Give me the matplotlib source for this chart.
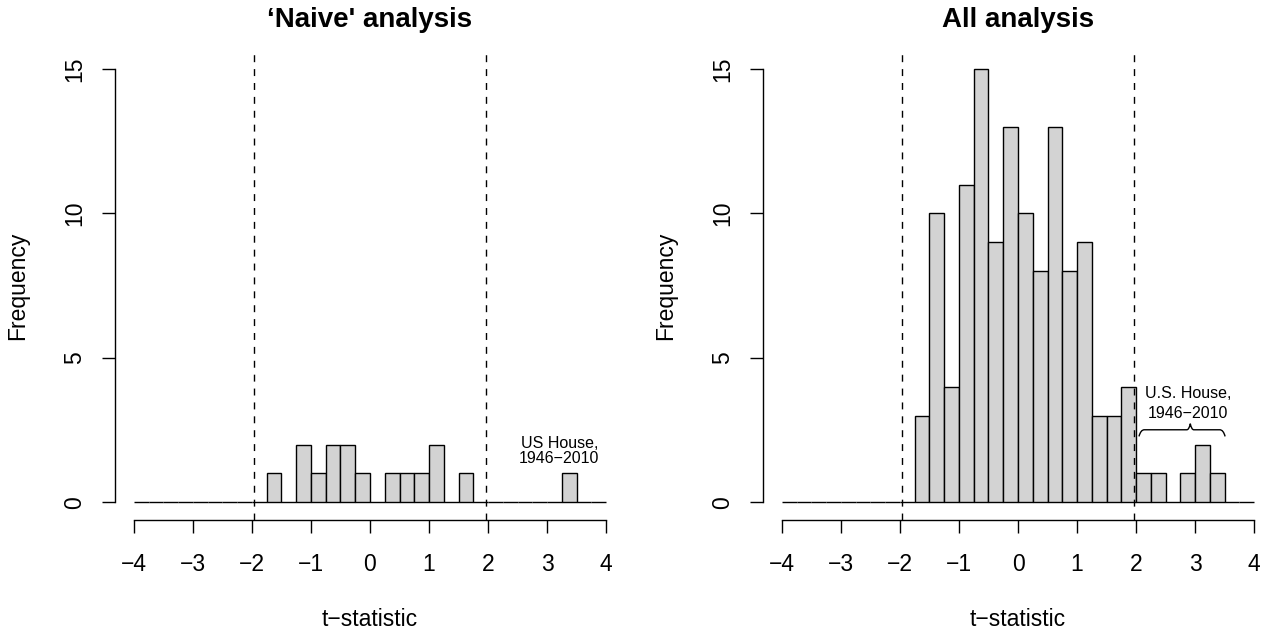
import numpy as np
import matplotlib
matplotlib.use("Agg")
import matplotlib.pyplot as plt
from matplotlib.path import Path
from matplotlib.patches import PathPatch

plt.rcParams['font.family'] = ['Liberation Sans', 'DejaVu Sans']

# histogram bins of the t-statistic (width 0.25 from -4 to 4)
bin_edges = np.arange(-4, 4.01, 0.25)
naive_counts = [0, 0, 0, 0, 0, 0, 0, 0, 0,
                1, 0, 2, 1, 2, 2, 1, 0, 1, 1, 1, 2, 0, 1,
                0, 0, 0, 0, 0, 0, 1, 0, 0]
all_counts = [0, 0, 0, 0, 0, 0, 0, 0, 0,
              3, 10, 4, 11, 15, 9, 13, 10, 8, 13, 8, 9, 3, 3,
              4, 1, 1, 0, 1, 2, 1, 0, 0]
crit_values = [-1.96, 1.96]

x_ticks = [-4, -3, -2, -1, 0, 1, 2, 3, 4]
x_ticklabels = ['\u22124', '\u22123', '\u22122', '\u22121', '0', '1', '2', '3', '4']
y_ticks = [0, 5, 10, 15]
y_ticklabels = ['0', '5', '10', '15']
titles = ['\u2018Naive\' analysis', 'All analysis']
xlabel = 't\u2212statistic'
ylabel = 'Frequency'

# text notes: (x, y, text) per line
naive_note = [(3.21, 1.87, 'US House,'), (3.21, 1.35, '1946\u22122010')]
all_note = [(2.887, 3.61, 'U.S. House,'), (2.887, 2.91, '1946\u22122010')]
# curly brace under the U.S. House note
brace_x0, brace_x1, brace_tip = 2.05, 3.51, 2.92
brace_y0, brace_y, brace_ytip = 2.28, 2.51, 2.72

W, H = 1266, 632
fig = plt.figure(figsize=(W / 100, H / 100), dpi=100)

# plot regions in pixels (R style, axes extended 4%)
ax_w = 509.8 / W
ax_b = (H - 519.6) / H
ax_h = (519.6 - 51.7) / H
ax1 = fig.add_axes([115.1 / W, ax_b, ax_w, ax_h])
ax2 = fig.add_axes([763.1 / W, ax_b, ax_w, ax_h])

lw = 1.0
fs = 16.5


def draw_panel(ax, counts, title, note):
    ax.bar(bin_edges[:-1], counts, width=0.25, align='edge', color='#d3d3d3',
           edgecolor='black', linewidth=lw, zorder=2)
    for c in crit_values:
        ax.axvline(c, color='black', lw=lw, ls=(0, (5, 5)), zorder=3)

    ax.set_xlim(-4.32, 4.32)
    ax.set_ylim(-0.6, 15.6)
    for s in ['top', 'right']:
        ax.spines[s].set_visible(False)
    ax.spines['left'].set_bounds(0, 15)
    ax.spines['bottom'].set_bounds(-4, 4)
    ax.spines['left'].set_linewidth(lw)
    ax.spines['bottom'].set_linewidth(lw)

    ax.set_xticks(x_ticks, labels=x_ticklabels, fontsize=fs)
    ax.set_yticks(y_ticks, labels=y_ticklabels, fontsize=fs, rotation=90, va='center')
    ax.tick_params(axis='x', length=9.6, width=lw, pad=14.5)
    ax.tick_params(axis='y', length=9.6, width=lw, pad=11.4)

    ax.annotate(title, xy=(0.5, 1), xycoords='axes fraction', xytext=(0, 18),
                textcoords='offset points', ha='center', va='baseline',
                fontsize=20, fontweight='bold')
    ax.annotate(xlabel, xy=(0.5, 0), xycoords='axes fraction', xytext=(0, -76.4),
                textcoords='offset points', ha='center', va='baseline', fontsize=fs)
    ax.annotate(ylabel, xy=(0, 0.5), xycoords='axes fraction', xytext=(-65.4, 0),
                textcoords='offset points', ha='center', va='baseline', fontsize=fs,
                rotation=90, rotation_mode='anchor')

    for x, y, t in note:
        ax.text(x, y, t, ha='center', va='baseline', fontsize=11.5, zorder=4)


draw_panel(ax1, naive_counts, titles[0], naive_note)
draw_panel(ax2, all_counts, titles[1], all_note)

# brace over the U.S. House bars
d = 0.06
verts = [(brace_x0, brace_y0),
         (brace_x0 + d / 2, brace_y), (brace_x0 + d * 1.5, brace_y),
         (brace_tip - d, brace_y),
         (brace_tip - d / 3, brace_y), (brace_tip, brace_ytip),
         (brace_tip + d / 3, brace_y), (brace_tip + d, brace_y),
         (brace_x1 - d * 1.5, brace_y),
         (brace_x1 - d / 2, brace_y), (brace_x1, brace_y0)]
codes = [Path.MOVETO, Path.CURVE3, Path.CURVE3, Path.LINETO,
         Path.CURVE3, Path.CURVE3, Path.CURVE3, Path.CURVE3,
         Path.LINETO, Path.CURVE3, Path.CURVE3]
ax2.add_patch(PathPatch(Path(verts, codes), facecolor='none', edgecolor='black',
                        lw=lw, zorder=4))

plt.savefig('out.png', dpi=100)
